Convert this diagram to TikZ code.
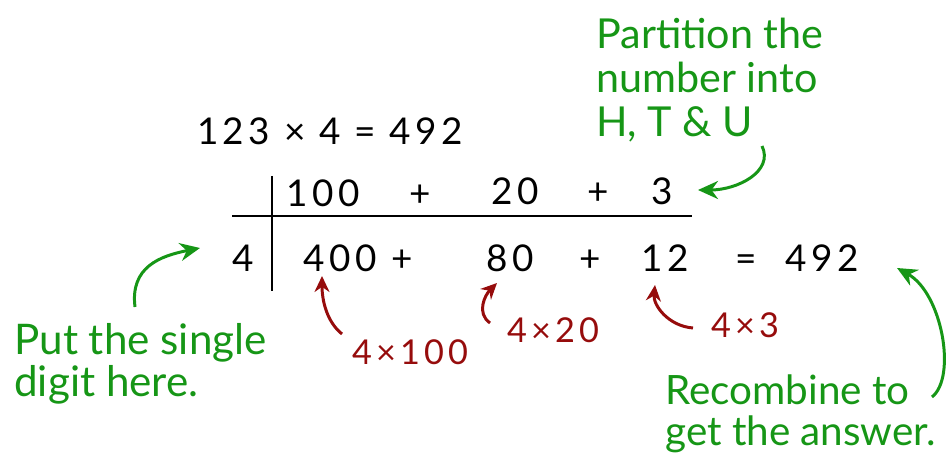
\documentclass[tikz,border=0pt]{standalone}
\usepackage{fontspec}
\setmainfont{Lato}
\newfontfamily\handdigits[LetterSpace=12]{Lato}
\usetikzlibrary{arrows.meta, positioning}
\definecolor{notegreen}{RGB}{22, 150, 22}
\definecolor{workred}{RGB}{150, 12, 12}

\begin{document}
\begin{tikzpicture}[
    x=0.02cm, y=-0.02cm,
    num/.style={anchor=base, inner sep=0pt, font=\handdigits\fontsize{21}{24}\selectfont},
    note/.style={anchor=west, align=left, inner sep=0pt, text=notegreen},
    work/.style={inner sep=0pt, text=workred, font=\handdigits\fontsize{19.5}{22}\selectfont},
    garrow/.style={-{Stealth[length=4mm, width=3.6mm]}, line width=1.7pt, draw=notegreen},
    rarrow/.style={-{Stealth[length=3.2mm, width=3mm]}, line width=1.7pt, draw=workred},
    gridline/.style={line width=1.2pt}
  ]
    \useasboundingbox (0,0) rectangle (950,459);

    \node[num] (sum) at (330,145) {123 × 4 = 492};

    % partitioned number
    \node[num] (n100) at (323,207) {100};
    \node[num] (p1) at (420,207) {+};
    \node[num] (n20) at (515,205) {20};
    \node[num] (p2) at (598,205) {+};
    \node[num] (n3) at (662,205) {3};

    % products
    \node[num] (n4) at (243,272) {4};
    \node[num] (n400) at (340,272) {400};
    \node[num] (p3) at (402,272) {+};
    \node[num] (n80) at (510,272) {80};
    \node[num] (p4) at (590,272) {+};
    \node[num] (n12) at (665,272) {12};
    \node[num] (n492) at (797,272) {=\hspace{0.8em}492};

    \draw[gridline] (272,176) -- (272,291);
    \draw[gridline] (232,216) -- (692,216);

    \node[work] (m100) at (410,352) {4×100};
    \node[work] (m20) at (553,330) {4×20};
    \node[work] (m3) at (745,325) {4×3};

    \node[note, font=\fontsize{23.5}{25}\selectfont] (partn) at (596,80) {Partition the\\number into\\H, T \& U};
    \node[note, font=\fontsize{24}{24}\selectfont] (put) at (14,364) {Put the single\\digit here.};
    \node[note, font=\fontsize{23}{23.5}\selectfont] (recomb) at (665,414) {Recombine to\\get the answer.};

    \draw[rarrow] ([shift={(-68,-18)}]m100.center) .. controls +(-15,-12) and +(0,25) .. ([shift={(-18,4)}]n400.base);
    \draw[rarrow] ([shift={(-63,-7)}]m20.center) .. controls +(-14,-10) and +(-12,12) .. ([shift={(-13,11)}]n80.base);
    \draw[rarrow] ([shift={(-52,3)}]m3.center) .. controls +(-25,-2) and +(-2,20) .. ([shift={(-10,13)}]n12.base);

    \draw[garrow] ([shift={(166,66)}]partn.west) .. controls +(12,25) and +(40,0) .. ([shift={(36,-15)}]n3.base);
    \draw[garrow] ([shift={(121,-57)}]put.west) .. controls +(-5,-40) and +(-40,8) .. ([shift={(-43,-24)}]n4.base);
    \draw[garrow] ([shift={(267,-17)}]recomb.west) .. controls +(25,-20) and +(45,25) .. ([shift={(100,-4)}]n492.base);
  \end{tikzpicture}
\end{document}
